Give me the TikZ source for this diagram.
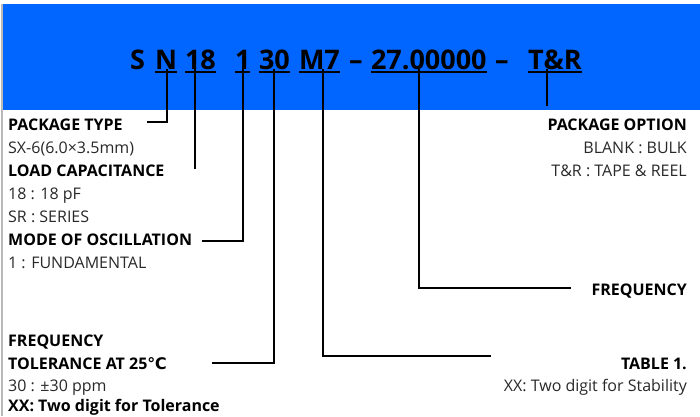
\documentclass[tikz,border=0pt]{standalone}
\usepackage{fontspec}
\setmainfont{Open Sans}
\newfontfamily\dejavu{DejaVu Sans}
\definecolor{band}{RGB}{0,102,255}
\definecolor{txtc}{RGB}{40,40,40}
\begin{document}
\begin{tikzpicture}[x=1pt,y=-1pt,
  ttl/.style={font=\fontsize{27}{27}\selectfont\bfseries, inner sep=0pt, outer sep=0pt, anchor=base west},
  hd/.style={font=\fontsize{16}{16}\selectfont\bfseries, inner sep=0pt, text=black},
  tx/.style={font=\fontsize{16}{16}\selectfont, inner sep=0pt, text=txtc},
  conn/.style={line width=1.3pt},
  uline/.style={line width=1.8pt}]
\useasboundingbox (0,0) rectangle (700,416);
\fill[band] (3,4) rectangle (700,110);
\draw[gray!55, line width=1.5pt] (2.2,4) -- (2.2,416);
% title pieces
\node[ttl] (tS)  at (130,69) {S};
\node[ttl] (tN)  at (155,69) {N};
\node[ttl] (t18) at (185,69) {18};
\node[ttl] (t1)  at (235,69) {1};
\node[ttl] (t30) at (259,69) {30};
\node[ttl] (tM7) at (299,69) {M7};
\node[ttl] (td1) at (349,69) {–};
\node[ttl] (tF)  at (371,69) {27.00000};
\node[ttl] (td2) at (495,69) {–};
\node[ttl] (tT)  at (528,69) {T\&R};
\foreach \n in {tN,t18,t1,t30,tM7,tF,tT}
  \draw[uline] ([yshift=-2.6pt]\n.south west) -- ([yshift=-2.6pt]\n.south east);
% left labels
\node[hd, anchor=base west] (pkg)  at (8,130.5) {PACKAGE TYPE};
\node[tx, anchor=base west] (pkgv) at (8,153.5) {SX-6(6.0×3.5mm)};
\node[hd, anchor=base west] (load) at (8,176.5) {LOAD CAPACITANCE};
\node[tx, anchor=base west] (lv1)  at (8,199.5) {18 : 18 pF};
\node[tx, anchor=base west] (lv2)  at (8,222.5) {SR : SERIES};
\node[hd, anchor=base west] (mode) at (8,245.5) {MODE OF OSCILLATION};
\node[tx, anchor=base west] (mv)   at (8,268.5) {1 : FUNDAMENTAL};
\node[hd, anchor=base west] (ft1)  at (8,346) {FREQUENCY};
\node[hd, anchor=base west] (ft2)  at (8,369) {TOLERANCE AT 25{\dejavu ℃}};
\node[tx, anchor=base west] (ftv)  at (8,391.5) {30 : ±30 ppm};
\node[hd, anchor=base west] (ftx)  at (8,411.5) {XX: Two digit for Tolerance};
% right labels
\node[hd, anchor=base east] (opt)  at (687,130.5) {PACKAGE OPTION};
\node[tx, anchor=base east] (ov1)  at (687,153.5) {BLANK : BULK};
\node[tx, anchor=base east] (ov2)  at (687,176.5) {T\&R : TAPE \& REEL};
\node[hd, anchor=base east] (freq) at (687,295.5) {FREQUENCY};
\node[hd, anchor=base east] (tab)  at (687,369) {TABLE 1.};
\node[tx, anchor=base east] (tabv) at (687,391.5) {XX: Two digit for Stability};
% connector corners
\coordinate (kN)  at (167,122);  \coordinate (eN)  at (147,122);
\coordinate (k18) at (195,169);
\coordinate (k1)  at (243,241);  \coordinate (e1)  at (202,241);
\coordinate (k30) at (274,363);  \coordinate (e30) at (212,363);
\coordinate (kM)  at (323,356);  \coordinate (eM)  at (491,356);
\coordinate (kF)  at (419,288);  \coordinate (eF)  at (571,288);
\coordinate (kT)  at (547,106);
\draw[conn] (tN.south -| kN) -- (kN) -- (eN);
\draw[conn] (t18.south -| k18) -- (k18);
\draw[conn] (t1.south -| k1) -- (k1) -- (e1);
\draw[conn] (t30.south -| k30) -- (k30) -- (e30);
\draw[conn] (tM7.south -| kM) -- (kM) -- (eM);
\draw[conn] (tF.south -| kF) -- (kF) -- (eF);
\draw[conn] (tT.south -| kT) -- (kT);
\end{tikzpicture}
\end{document}
